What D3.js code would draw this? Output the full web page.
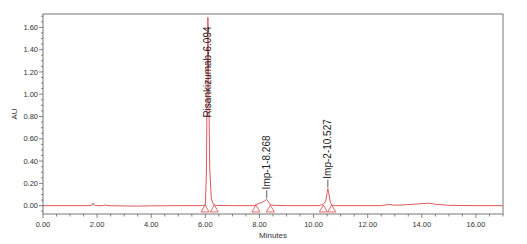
<!DOCTYPE html>
<html lang="en">
<head>
<meta charset="utf-8">
<title>Chromatogram</title>
<script src="https://d3js.org/d3.v7.min.js"></script>
<style>
  html, body { margin: 0; padding: 0; background: #fff; }
  svg { display: block; font-family: "Liberation Sans", Arial, sans-serif; }
  .tick-label { font-size: 7.5px; fill: #333; }
  .axis-title { font-size: 8px; fill: #333; }
  .peak-label { font-size: 10px; fill: #222; }
</style>
</head>
<body>
<script>
// trace (minutes, AU)
const times = [0, 1.7, 1.8, 1.85, 1.9, 2.0, 2.2, 2.3, 2.4, 3.0, 3.5, 4.0, 5.0, 5.9, 6.0, 6.04, 6.07, 6.094, 6.12, 6.16, 6.22, 6.3, 6.4, 7.0, 7.8, 7.9, 8.0, 8.1, 8.2, 8.268, 8.33, 8.4, 8.5, 9.0, 10.2, 10.3, 10.38, 10.45, 10.5, 10.527, 10.56, 10.62, 10.67, 10.8, 12.5, 12.8, 12.95, 13.3, 14.0, 14.25, 14.6, 15.0, 16.0, 17.0];
const absorb = [0, 0, 0.003, 0.022, 0.005, 0, 0, 0.006, 0, -0.003, -0.004, -0.002, 0, 0, 0.01, 0.3, 1.2, 1.69, 1.2, 0.35, 0.06, 0.01, 0.002, 0, 0, 0.012, 0.022, 0.028, 0.045, 0.056, 0.035, 0.01, 0.003, 0, 0, 0.008, 0.018, 0.04, 0.12, 0.152, 0.11, 0.03, 0.005, 0, 0, 0.012, 0.004, 0.006, 0.018, 0.022, 0.01, 0.003, 0, 0];

// integrated peaks
const peakNames = ["Risankizumab-6.094", "Imp-1-8.268", "Imp-2-10.527"];
const peakTimes = [6.094, 8.268, 10.527];
const peakHeights = [1.69, 0.056, 0.152];
const peakStarts = [5.99, 7.87, 10.36];
const peakEnds = [6.33, 8.40, 10.67];

const xTicks = [0, 2, 4, 6, 8, 10, 12, 14, 16];
const yTicks = [0, 0.2, 0.4, 0.6, 0.8, 1.0, 1.2, 1.4, 1.6];

const W = 527, H = 244;
const L = 43, R = 503, T = 14, B = 214;
const red = "#e0585a";

const x = d3.scaleLinear().domain([0, 17]).range([L, R]);
const y = d3.scaleLinear().domain([-0.075, 1.72]).range([B, T]);

const svg = d3.select("body").append("svg")
  .attr("width", W).attr("height", H);

// frame
svg.append("rect")
  .attr("x", L).attr("y", T).attr("width", R - L).attr("height", B - T)
  .attr("fill", "none").attr("stroke", "#777").attr("stroke-width", 1);

// x axis ticks
const xMinor = d3.range(0, 17.01, 0.5);
svg.selectAll("line.xt").data(xMinor).enter().append("line")
  .attr("x1", d => x(d)).attr("x2", d => x(d))
  .attr("y1", B).attr("y2", d => B + (d % 2 === 0 ? 4 : 2.5))
  .attr("stroke", "#666").attr("stroke-width", 0.8);
svg.selectAll("text.xl").data(xTicks).enter().append("text")
  .attr("class", "tick-label")
  .attr("x", d => x(d)).attr("y", 227)
  .attr("text-anchor", "middle")
  .text(d => d.toFixed(2));

// y axis ticks
const yMinor = d3.range(-0.05, 1.71, 0.05);
svg.selectAll("line.yt").data(yMinor).enter().append("line")
  .attr("x1", L).attr("x2", d => L - (Math.abs(Math.round(d * 100) % 20) === 0 ? 4 : 2))
  .attr("y1", d => y(d)).attr("y2", d => y(d))
  .attr("stroke", "#666").attr("stroke-width", 0.8);
svg.selectAll("text.yl").data(yTicks).enter().append("text")
  .attr("class", "tick-label")
  .attr("x", L - 5).attr("y", d => y(d) + 2.7)
  .attr("text-anchor", "end")
  .text(d => d.toFixed(2));

// axis titles
svg.append("text").attr("class", "axis-title")
  .attr("x", (L + R) / 2).attr("y", 238).attr("text-anchor", "middle")
  .text("Minutes");
svg.append("text").attr("class", "axis-title")
  .attr("transform", `translate(17,${(T + B) / 2}) rotate(-90)`)
  .attr("text-anchor", "middle")
  .text("AU");

// trace
const pts = times.map((t, i) => [t, absorb[i]]);
svg.append("path")
  .datum(pts)
  .attr("fill", "none").attr("stroke", red).attr("stroke-width", 1)
  .attr("d", d3.line().x(d => x(d[0])).y(d => y(d[1])));

// peak start/end markers
const marks = peakStarts.concat(peakEnds);
svg.selectAll("path.tri").data(marks).enter().append("path")
  .attr("transform", d => `translate(${x(d)},${y(0) + 4})`)
  .attr("d", d3.symbol(d3.symbolTriangle, 28))
  .attr("fill", "none").attr("stroke", red).attr("stroke-width", 0.9);

// peak labels
peakNames.forEach((name, i) => {
  const px = x(peakTimes[i]);
  const base = Math.min(peakHeights[i] + 0.09, 0.79);
  svg.append("text").attr("class", "peak-label")
    .attr("transform", `translate(${px + 3.5},${y(base)}) rotate(-90)`)
    .text(name);
  if (peakHeights[i] + 0.09 < 0.79) {
    svg.append("line")
      .attr("x1", px).attr("x2", px)
      .attr("y1", y(base) + 1).attr("y2", y(peakHeights[i]) - 1)
      .attr("stroke", "#333").attr("stroke-width", 0.8);
  }
});
</script>
</body>
</html>
